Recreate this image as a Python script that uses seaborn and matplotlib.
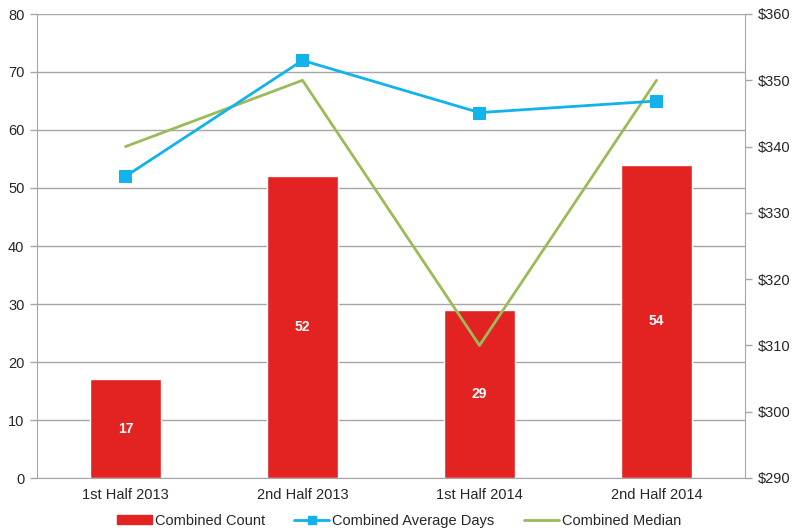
import matplotlib
matplotlib.use("Agg")
import matplotlib.pyplot as plt
import seaborn as sns
import pandas as pd
import numpy as np
from matplotlib.patches import Patch
from matplotlib.lines import Line2D

categories = ["1st Half 2013", "2nd Half 2013", "1st Half 2014", "2nd Half 2014"]
combined_count = [17, 52, 29, 54]
combined_avg_days = [52, 72, 63, 65]
combined_median = [340, 350, 310, 350]

left_ticks = [0, 10, 20, 30, 40, 50, 60, 70, 80]
right_ticks = [290, 300, 310, 320, 330, 340, 350, 360]
right_labels = ["$290", "$300", "$310", "$320", "$330", "$340", "$350", "$360"]

RED = "#E32322"
BLUE = "#12B2EA"
GREEN = "#9BBB59"
GRID = "#A6A6A6"
FS = 10.5

df = pd.DataFrame({"cat": categories, "count": combined_count,
                   "days": combined_avg_days, "median": combined_median})

sns.set_style("white")
plt.rcParams["font.family"] = ["Liberation Sans", "DejaVu Sans"]

fig = plt.figure(figsize=(7.98, 5.32), dpi=100)
rect = [37/798, 54/532, 708/798, 464/532]
ax = fig.add_axes(rect)

sns.barplot(data=df, x="cat", y="count", color=RED, saturation=1, width=0.4, ax=ax, zorder=2)

ax.set_ylim(0, 80)
ax.set_xlim(-0.5, 3.5)
ax.set_yticks(left_ticks)
ax.set_yticklabels([str(t) for t in left_ticks], fontsize=FS)
ax.yaxis.grid(True, color=GRID, linewidth=1)
ax.set_axisbelow(True)
ax.set_xlabel("")
ax.set_ylabel("")
ax.tick_params(axis="x", which="major", length=0, labelsize=FS, pad=7)
ax.set_xticks(np.arange(-0.5, 4, 1), minor=True)
ax.tick_params(axis="x", which="minor", length=5, color=GRID, width=1)
ax.tick_params(axis="y", length=5, color=GRID, width=1, pad=4)
for s in ["left", "bottom"]:
    ax.spines[s].set_color(GRID)
ax.spines["top"].set_visible(False)
ax.spines["right"].set_visible(False)

for i, v in enumerate(combined_count):
    ax.text(i, v / 2, str(v), ha="center", va="center", color="white",
            fontsize=10, fontweight="bold", zorder=5)

# median on right axis, drawn above bars
ax2 = ax.twinx()
sns.lineplot(data=df, x="cat", y="median", color=GREEN, linewidth=2, sort=False, ax=ax2)
ax2.set_ylim(290, 360)
ax2.set_yticks(right_ticks)
ax2.set_yticklabels(right_labels, fontsize=FS)
ax2.set_ylabel("")
ax2.tick_params(axis="y", length=5, color=GRID, width=1, pad=4)
ax2.spines["right"].set_color(GRID)
for s in ["top", "left", "bottom"]:
    ax2.spines[s].set_visible(False)

# average days on the left scale, topmost
ax3 = ax.twinx()
sns.lineplot(data=df, x="cat", y="days", color=BLUE, marker="s", markersize=9,
             markeredgecolor=BLUE, linewidth=2, sort=False, ax=ax3)
ax3.set_ylim(0, 80)
ax3.set_ylabel("")
ax3.set_yticks([])
for s in ax3.spines.values():
    s.set_visible(False)

handles = [Patch(facecolor=RED, edgecolor=RED),
           Line2D([], [], color=BLUE, marker="s", linewidth=2, markersize=6),
           Line2D([], [], color=GREEN, linewidth=2)]
labels = ["Combined Count", "Combined Average Days", "Combined Median"]
fig.legend(handles, labels, loc="center", bbox_to_anchor=(0.5, 11/532), ncol=3,
           frameon=False, fontsize=FS, handlelength=2.4, handleheight=0.6,
           handletextpad=0.2, columnspacing=2.0, borderpad=0)

fig.savefig("out.png", dpi=100)
